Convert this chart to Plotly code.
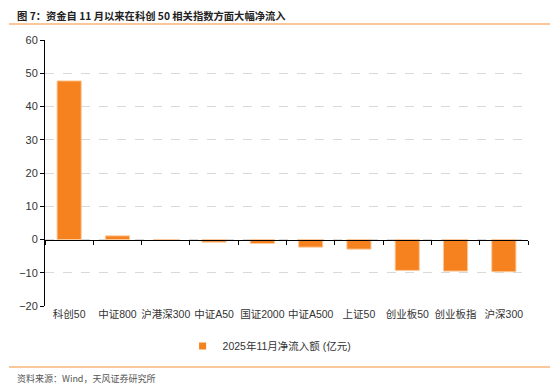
import plotly.graph_objects as go

categories = ["科创50", "中证800", "沪港深300", "中证A50", "国证2000", "中证A500", "上证50", "创业板50", "创业板指", "沪深300"]
values = [47.7, 1.1, 0.0, -0.8, -1.2, -2.3, -2.9, -9.3, -9.5, -9.7]
series_name = "2025年11月净流入额 (亿元)"
y_ticks = [-20, -10, 0, 10, 20, 30, 40, 50, 60]

FONT = "Liberation Sans, Arial, Noto Sans CJK SC"
ORANGE = "#F5821F"

fig = go.Figure()
fig.add_trace(go.Bar(x=categories, y=values, name=series_name, showlegend=False,
                     marker=dict(color=ORANGE, line=dict(color="#FBC99A", width=1)),
                     width=0.5))
fig.add_trace(go.Bar(x=categories, y=values, xaxis="x2", showlegend=False,
                     marker=dict(opacity=0), hoverinfo="skip", width=0.5))
# legend entry (small square)
fig.add_trace(go.Scatter(x=[None], y=[None], mode="markers", name=series_name,
                         marker=dict(symbol="square", size=7, color=ORANGE)))

zero_pos = (0 - (-20)) / (60 - (-20))

fig.update_layout(
    width=550, height=390,
    margin=dict(l=45, r=22, t=40, b=84, autoexpand=False),
    paper_bgcolor="white", plot_bgcolor="white",
    font=dict(family=FONT, size=11, color="#333333"),
    showlegend=True,
    legend=dict(orientation="h", x=0.465, xanchor="center", y=-0.15, yanchor="middle",
                font=dict(size=10.5, color="#333333"), itemwidth=30,
                bgcolor="rgba(0,0,0,0)"),
    xaxis=dict(type="category", showline=False, ticks="", showgrid=False, tickangle=0,
               automargin=False, tickfont=dict(size=10.5, color="#333333"), zeroline=False),
    xaxis2=dict(type="category", overlaying="x", anchor="free", position=zero_pos,
                side="bottom", showline=True, linecolor="#000000", linewidth=1,
                ticks="outside", tickson="boundaries", ticklen=4, tickcolor="#000000",
                showticklabels=False, showgrid=False, zeroline=False, matches="x",
                automargin=False),
    yaxis=dict(range=[-20, 60], tickvals=y_ticks, showline=True, linecolor="#000000",
               linewidth=1, ticks="outside", ticklen=4, tickcolor="#000000",
               showgrid=True, gridcolor="#D9D9D9", griddash="dash", gridwidth=1,
               zeroline=False, automargin=False, tickfont=dict(size=11, color="#333333")),
    bargap=0.5,
)

fig.add_annotation(text="<b>图 7：资金自 11 月以来在科创 50 相关指数方面大幅净流入</b>",
                   xref="paper", yref="paper", x=(15 - 45) / 483, y=(306 - 15) / 266,
                   xanchor="left", yanchor="middle", showarrow=False,
                   font=dict(size=10.3, color="#222222", family="Noto Sans CJK SC"))
fig.add_shape(type="line", xref="paper", yref="paper",
              x0=(9 - 45) / 483, x1=(550 - 45) / 483, y0=(306 - 24) / 266, y1=(306 - 24) / 266,
              line=dict(color="#F9B57A", width=1.5))
fig.add_shape(type="line", xref="paper", yref="paper",
              x0=(9 - 45) / 483, x1=(550 - 45) / 483, y0=(306 - 367) / 266, y1=(306 - 367) / 266,
              line=dict(color="#F9B57A", width=1.5))
fig.add_annotation(text="资料来源：Wind，天风证券研究所",
                   xref="paper", yref="paper", x=(15 - 45) / 483, y=(306 - 378) / 266,
                   xanchor="left", yanchor="middle", showarrow=False,
                   font=dict(size=9, color="#555555", family="Noto Sans CJK SC"))

fig.write_html("out.html", config={"displayModeBar": False},
               post_script="document.body.style.margin='0';document.body.style.padding='0';")
